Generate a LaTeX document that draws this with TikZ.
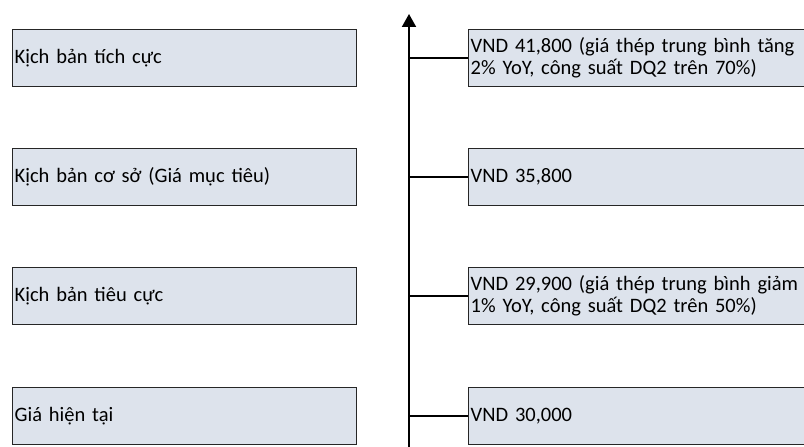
\documentclass[tikz,border=0pt]{standalone}
\usepackage{fontspec}
\setmainfont{Carlito}
\usetikzlibrary{arrows.meta}
\definecolor{boxfill}{HTML}{DDE3EC}
\definecolor{boxline}{HTML}{262626}
\tikzset{
  x=1pt,y=1pt,
  scen/.style={draw=boxline,line width=1.4pt,fill=boxfill,rectangle,anchor=north west,
    minimum width=344pt,minimum height=57pt,inner sep=1.5pt,text width=340pt,align=left,
    font=\fontsize{20.5}{22}\selectfont},
  val/.style={scen,minimum width=360pt,text width=356pt},
  conn/.style={line width=1.7pt,draw=black},
  axisline/.style={line width=1.9pt,draw=black,-{Triangle[width=14pt,length=13pt]}}
}
\begin{document}
\begin{tikzpicture}
\useasboundingbox (0,0) rectangle (804,447);
\clip (0,0) rectangle (804,447);
\node[scen] (s1) at (12,418) {Kịch bản tích cực};
\node[scen] (s2) at (12,299) {Kịch bản cơ sở (Giá mục tiêu)};
\node[scen] (s3) at (12,180) {Kịch bản tiêu cực};
\node[scen] (s4) at (12,60) {Giá hiện tại};
\node[val] (v1) at (468,418) {VND 41,800 (giá thép trung bình tăng\\2\% YoY, công suất DQ2 trên 70\%)};
\node[val] (v2) at (468,299) {VND 35,800};
\node[val] (v3) at (468,180) {VND 29,900 (giá thép trung bình giảm\\1\% YoY, công suất DQ2 trên 50\%)};
\node[val] (v4) at (468,60) {VND 30,000};
\coordinate (abot) at (409,-5);
\coordinate (atop) at (409,433);
\draw[axisline] (abot) -- (atop);
\foreach \i in {1,2,3,4} {
  \draw[conn] (v\i.west) -- (abot |- v\i.west);
}
\end{tikzpicture}
\end{document}
